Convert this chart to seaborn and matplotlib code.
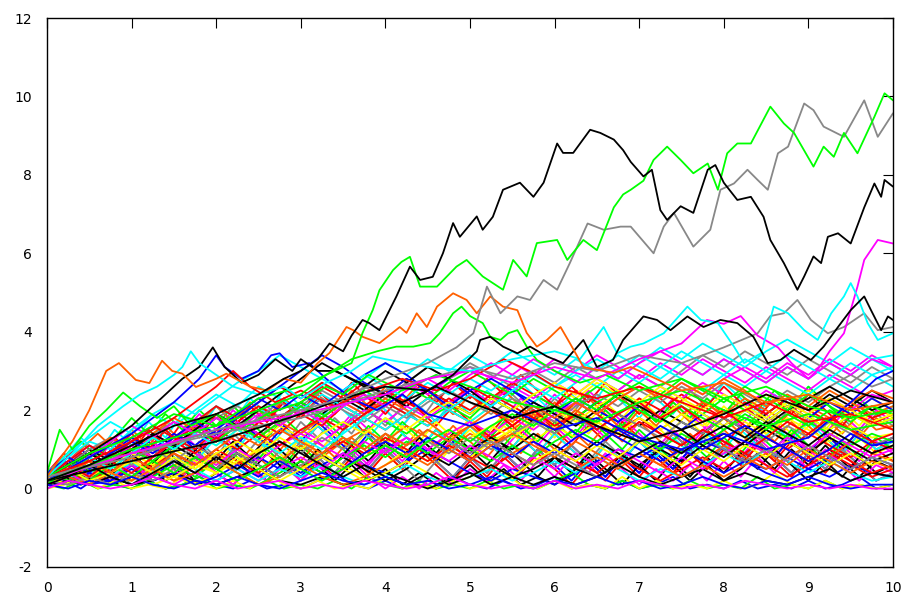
import numpy as np
import pandas as pd
import matplotlib
matplotlib.use("Agg")
import matplotlib.pyplot as plt
import seaborn as sns

# ---------------------------------------------------------------
# Reflected random-walk sample paths, X(t) >= 0 on 0 <= t <= 10
# ---------------------------------------------------------------

COLORS = {
    "red": "#ff0000", "green": "#00ff00", "blue": "#0000ff",
    "magenta": "#ff00ff", "cyan": "#00ffff", "orange": "#ff6000",
    "yellow": "#ffff00", "black": "#000000", "gray": "#888888",
}

# Background bundle A: values every 0.2 time units (51 samples)
n01 = [0.4,0.9,0.5,1.1,0.7,1.3,0.9,1.5,1.1,1.7,1.2,1.8,1.4,2.0,1.5,1.1,1.6,1.2,1.8,1.3,0.9,1.4,1.0,1.5,1.1,0.7,1.2,0.8,1.3,0.9,1.4,1.0,0.6,1.1,0.7,1.2,0.8,0.4,0.9,0.5,1.0,0.6,1.1,0.7,1.2,0.8,1.3,0.9,1.4,1.0,1.2]
n02 = [0.2,0.6,0.3,0.8,1.2,0.8,1.3,0.9,1.4,1.9,1.5,2.0,1.6,2.1,1.7,2.2,1.8,1.4,1.9,1.5,2.0,1.6,2.1,1.7,2.2,2.6,2.2,1.8,2.3,1.9,2.4,2.0,2.5,2.1,1.7,2.2,1.8,2.3,1.9,1.5,2.0,1.6,2.1,1.7,1.3,1.8,1.4,1.9,1.5,2.0,1.7]
n03 = [0.1,0.5,0.2,0.6,0.3,0.7,0.3,0.8,0.4,0.9,0.5,1.0,0.6,0.2,0.7,0.3,0.8,0.4,0.9,0.5,1.0,0.6,1.1,0.7,1.2,0.8,1.3,0.9,0.5,1.0,0.6,1.1,0.7,0.3,0.8,0.4,0.9,0.5,1.0,0.6,1.1,0.7,1.2,0.8,0.4,0.9,0.5,1.0,0.6,0.2,0.4]
n04 = [0.3,0.8,1.3,0.9,1.5,1.1,1.7,1.3,1.9,1.5,2.1,1.7,2.3,1.9,2.5,2.1,1.7,2.2,1.8,2.4,2.0,1.6,2.1,1.7,2.3,1.9,2.5,2.1,2.7,2.3,1.9,2.4,2.0,2.6,2.2,1.8,2.3,1.9,2.5,2.1,2.7,2.3,1.9,2.4,2.0,2.6,2.2,1.8,2.3,1.9,2.1]
n05 = [0.2,0.6,0.3,0.8,0.4,0.9,0.5,1.1,0.7,1.2,0.8,1.4,1.0,1.5,1.1,1.7,1.3,1.8,1.4,2.0,1.6,2.1,1.7,2.3,1.9,2.4,2.0,2.6,2.2,1.8,2.3,1.9,2.4,2.0,1.6,2.1,1.7,2.2,1.8,2.3,1.9,2.4,2.0,1.6,2.1,1.7,2.2,1.8,1.4,1.9,1.6]
n06 = [0.1,0.4,0.1,0.5,0.2,0.6,0.2,0.7,0.3,0.8,0.4,0.9,0.5,1.0,0.6,1.1,0.7,0.3,0.8,0.4,0.9,0.5,1.0,0.6,1.1,1.5,1.1,1.6,1.2,1.7,1.3,1.8,1.4,1.9,1.5,2.0,1.6,1.2,1.7,1.3,1.8,1.4,1.0,1.5,1.1,1.6,1.2,0.8,1.3,0.9,1.1]
n07 = [0.3,0.7,1.2,0.8,1.3,0.9,1.5,1.1,1.7,1.3,1.9,1.5,2.1,1.7,2.3,1.9,2.5,2.1,2.7,2.3,1.9,2.4,2.0,1.6,2.1,1.7,1.3,1.8,1.4,1.9,1.5,1.1,1.6,1.2,1.7,1.3,0.9,1.4,1.0,1.5,1.1,1.6,1.2,0.8,1.3,0.9,1.4,1.0,1.5,1.1,1.3]
n08 = [0.2,0.5,0.9,0.5,1.0,0.6,1.1,0.7,1.2,0.8,0.4,0.9,0.5,1.0,0.6,1.1,0.7,1.2,0.8,1.3,0.9,1.4,1.0,1.5,1.1,1.6,1.2,1.7,1.3,1.8,1.4,1.9,1.5,2.0,1.6,2.1,1.7,2.2,1.8,2.3,1.9,2.4,2.0,2.5,2.1,2.6,2.2,1.8,2.3,1.9,2.0]
n09 = [0.4,0.1,0.5,0.2,0.6,0.2,0.7,0.3,0.8,0.4,0.9,0.5,1.0,0.6,1.1,0.7,1.2,0.8,1.3,0.9,1.4,1.0,1.5,1.1,1.6,1.2,0.8,1.3,0.9,1.4,1.0,1.5,1.1,1.6,1.2,1.7,1.3,0.9,1.4,1.0,1.5,1.1,1.6,1.2,1.7,1.3,1.8,1.4,1.9,1.5,1.6]
n10 = [0.1,0.3,0.1,0.4,0.1,0.3,0.6,0.2,0.5,0.1,0.4,0.8,0.4,0.9,0.5,1.0,0.6,0.2,0.6,0.2,0.5,0.1,0.4,0.1,0.3,0.6,0.2,0.5,0.1,0.3,0.1,0.4,0.8,0.4,0.9,0.5,1.0,0.6,0.2,0.6,0.2,0.5,0.9,0.5,1.0,0.6,1.1,0.7,0.3,0.7,0.5]
n11 = [0.3,0.7,0.3,0.8,0.4,0.9,1.3,0.9,1.4,1.0,1.5,1.1,0.7,1.2,0.8,1.3,0.9,1.4,1.0,0.6,1.1,0.7,1.2,0.8,1.3,0.9,1.4,1.0,1.5,1.1,1.6,1.2,1.7,1.3,1.8,1.4,1.0,1.5,1.1,1.6,1.2,0.8,1.3,0.9,1.4,1.0,0.6,1.1,0.7,1.2,0.9]
n12 = [0.2,0.6,1.0,0.6,1.1,0.7,1.2,0.8,1.3,0.9,1.4,1.0,1.5,1.1,1.6,1.2,1.7,1.3,0.9,1.4,1.0,0.6,1.1,0.7,0.3,0.8,0.4,0.9,0.5,1.0,0.6,0.2,0.7,0.3,0.8,0.4,0.9,0.5,1.0,0.6,1.1,0.7,1.2,0.8,1.3,0.9,1.4,1.0,1.5,1.1,1.3]
n13 = [0.1,0.4,0.1,0.5,0.2,0.6,0.2,0.7,0.3,0.8,0.4,0.1,0.5,0.2,0.6,0.2,0.7,0.3,0.8,0.4,0.9,0.5,1.0,0.6,0.2,0.7,0.3,0.8,0.4,0.9,0.5,0.1,0.6,0.2,0.7,0.3,0.8,0.4,0.9,0.5,1.0,0.6,1.1,0.7,0.3,0.8,0.4,0.9,0.5,1.0,0.7]
n14 = [0.3,0.6,0.2,0.7,0.3,0.8,0.4,0.9,0.5,1.0,0.6,1.1,0.7,1.2,0.8,1.3,0.9,1.4,1.0,1.5,1.1,1.6,1.2,1.7,1.3,1.8,1.4,1.9,1.5,2.0,1.6,2.1,1.7,2.2,1.8,2.3,1.9,1.5,2.0,1.6,2.1,1.7,1.3,1.8,1.4,1.9,1.5,2.0,1.6,2.1,1.8]
n15 = [0.2,0.5,0.1,0.6,0.2,0.7,0.3,0.8,1.2,0.8,1.3,0.9,1.4,1.0,1.5,1.1,1.6,1.2,1.7,1.3,1.8,1.4,1.0,1.5,1.1,1.6,1.2,0.8,1.3,0.9,1.4,1.0,0.6,1.1,0.7,1.2,0.8,1.3,0.9,1.4,1.0,1.5,1.1,1.6,1.2,1.7,1.3,0.9,1.4,1.0,1.2]
n16 = [0.3,0.8,1.2,0.8,1.3,1.8,1.4,1.9,1.5,2.0,1.6,2.1,1.7,1.3,1.8,1.4,1.9,1.5,1.1,1.6,1.2,1.7,1.3,0.9,1.4,1.0,1.5,1.1,1.6,1.2,1.7,1.3,1.8,1.4,1.0,1.5,1.1,0.7,1.2,0.8,1.3,0.9,1.4,1.0,1.5,1.1,0.7,1.2,0.8,1.3,1.0]
n17 = [0.2,0.6,1.0,1.4,1.0,1.5,1.1,1.6,1.2,1.7,2.1,1.7,2.2,1.8,2.3,1.9,2.4,2.0,2.5,2.1,2.6,2.2,2.7,2.3,1.9,2.4,2.0,2.5,2.1,1.7,2.2,1.8,2.3,1.9,1.5,2.0,1.6,2.1,1.7,2.2,1.8,1.4,1.9,1.5,2.0,1.6,1.2,1.7,1.3,1.8,1.5]
n18 = [0.1,0.3,0.6,0.2,0.5,0.1,0.4,0.8,0.4,0.9,0.5,1.0,0.6,1.1,0.7,1.2,0.8,0.4,0.9,0.5,1.0,0.6,0.2,0.7,0.3,0.8,0.4,0.9,0.5,1.0,0.6,1.1,0.7,1.2,0.8,1.3,0.9,1.4,1.0,0.6,1.1,0.7,1.2,0.8,0.4,0.9,0.5,1.0,0.6,0.2,0.4]
n19 = [0.3,0.7,0.3,0.8,0.4,0.9,0.5,1.0,0.6,1.1,0.7,1.2,0.8,1.3,0.9,0.5,1.0,0.6,1.1,0.7,1.2,0.8,1.3,0.9,1.4,1.0,0.6,1.1,0.7,0.3,0.8,0.4,0.9,0.5,0.1,0.6,0.2,0.7,0.3,0.8,0.4,0.9,0.5,1.0,0.6,0.2,0.7,0.3,0.8,0.4,0.6]
n20 = [0.0,0.2,0.0,0.3,0.1,0.0,0.2,0.0,0.1,0.3,0.1,0.0,0.2,0.0,0.1,0.0,0.2,0.4,0.1,0.0,0.2,0.0,0.1,0.0,0.3,0.1,0.0,0.2,0.0,0.1,0.3,0.0,0.1,0.0,0.2,0.0,0.1,0.3,0.0,0.1,0.0,0.2,0.0,0.1,0.0,0.2,0.0,0.1,0.3,0.0,0.1]
n21 = [0.1,0.0,0.2,0.0,0.1,0.0,0.2,0.0,0.1,0.3,0.0,0.1,0.0,0.2,0.0,0.1,0.0,0.2,0.0,0.3,0.1,0.0,0.2,0.0,0.1,0.0,0.2,0.0,0.1,0.0,0.2,0.4,0.1,0.0,0.2,0.0,0.1,0.0,0.2,0.0,0.1,0.0,0.3,0.0,0.1,0.0,0.2,0.0,0.1,0.0,0.1]
n22 = [0.0,0.1,0.3,0.0,0.2,0.0,0.1,0.0,0.3,0.1,0.0,0.2,0.0,0.4,0.1,0.0,0.2,0.0,0.1,0.0,0.3,0.0,0.1,0.0,0.2,0.0,0.1,0.4,0.1,0.0,0.2,0.0,0.1,0.0,0.3,0.0,0.2,0.0,0.1,0.0,0.2,0.0,0.1,0.4,0.1,0.0,0.2,0.0,0.1,0.0,0.1]
n23 = [0.2,0.5,0.2,0.6,0.2,0.6,0.3,0.7,0.3,0.8,0.4,0.1,0.5,0.2,0.6,0.2,0.6,0.3,0.7,0.3,0.0,0.3,0.0,0.4,0.1,0.5,0.2,0.6,0.2,0.7,0.3,0.8,0.4,0.9,0.5,0.1,0.5,0.2,0.6,0.2,0.7,0.3,0.8,0.4,0.9,0.5,1.0,0.6,0.2,0.6,0.4]
n24 = [0.2,0.5,0.9,0.5,1.0,1.4,1.0,1.5,1.1,1.6,1.2,1.7,2.1,1.7,2.2,1.8,2.3,1.9,2.4,2.0,2.5,2.1,2.6,2.2,2.7,2.3,2.8,2.4,2.9,2.5,2.1,2.6,2.2,2.7,2.3,1.9,2.4,2.0,2.5,2.1,2.6,2.2,1.8,2.3,1.9,2.4,2.0,1.6,2.1,1.7,1.9]

# Background bundle B: values every 0.25 time units (41 samples)
red1 = [0.3,0.6,0.2,0.7,1.0,0.8,1.3,1.0,1.5,1.2,1.7,1.4,1.9,1.6,2.1,1.8,1.5,1.9,1.6,2.0,1.7,1.3,1.6,2.0,1.7,2.2,1.9,1.5,1.8,1.4,1.1,1.5,1.2,0.9,1.3,1.0,1.4,1.1,0.8,1.2,1.0]
green1 = [0.1,0.4,0.8,0.5,0.9,1.3,1.0,1.4,1.8,1.5,2.0,1.7,2.2,1.9,1.6,2.0,1.7,1.4,1.8,2.1,1.8,2.3,2.0,2.4,2.1,1.8,2.2,2.5,2.1,1.8,2.2,1.9,2.3,2.0,1.7,2.1,1.8,1.5,1.9,1.6,1.8]
blue1 = [0.2,0.1,0.4,0.2,0.6,0.3,0.7,0.4,0.2,0.5,0.8,0.5,0.3,0.6,0.9,0.6,0.4,0.7,1.0,0.7,0.4,0.2,0.5,0.3,0.1,0.4,0.7,1.0,0.8,1.1,0.9,1.2,1.0,0.7,0.5,0.8,0.5,0.3,0.6,0.4,0.3]
magenta1 = [0.4,0.7,1.1,0.8,1.2,0.9,1.3,1.6,1.3,1.7,1.4,1.1,1.5,1.2,1.6,2.0,1.7,2.1,1.8,2.2,2.5,2.2,2.6,2.3,2.7,2.4,2.8,2.5,2.9,2.6,2.3,2.7,2.4,2.1,2.5,2.2,1.9,2.3,2.0,2.4,2.2]
cyan1 = [0.3,0.8,1.2,1.0,1.5,1.9,1.6,2.0,2.4,2.1,2.6,2.3,2.0,2.4,2.1,1.8,2.2,1.9,1.6,2.0,1.7,2.1,2.5,2.2,2.6,2.9,2.6,3.0,2.7,3.1,2.8,2.5,2.9,2.6,3.0,2.7,2.4,2.8,2.5,2.9,2.6]
orange1 = [0.5,0.3,0.7,0.4,0.8,0.5,0.2,0.6,0.9,0.6,1.0,0.7,1.1,0.8,1.2,1.5,1.2,1.6,1.3,1.0,1.4,1.1,1.5,1.9,1.6,2.0,1.7,1.4,1.8,1.5,1.9,2.2,1.9,2.3,2.0,1.7,2.1,1.8,2.2,1.9,2.1]
yellow1 = [0.1,0.3,0.1,0.4,0.2,0.5,0.3,0.1,0.4,0.7,0.4,0.8,0.5,0.9,0.6,0.3,0.6,1.0,0.7,1.1,0.8,1.2,1.5,1.2,1.6,1.3,1.7,1.4,1.8,1.5,1.9,1.6,2.0,1.7,1.4,1.8,1.5,1.2,1.6,1.3,1.4]
black1 = [0.2,0.5,0.9,0.6,1.0,0.7,1.1,0.8,0.5,0.9,0.6,0.3,0.7,0.4,0.8,0.5,0.2,0.5,0.9,0.6,1.0,1.3,1.0,1.4,1.1,0.8,1.2,0.9,0.6,1.0,0.7,1.1,1.4,1.1,1.5,1.2,0.9,1.3,1.0,0.7,0.9]
gray1 = [0.3,0.6,1.0,1.3,1.0,1.4,1.7,1.4,1.8,2.1,1.8,2.2,1.9,2.3,2.0,1.7,2.1,1.8,2.2,2.5,2.2,1.9,2.3,2.0,1.7,2.1,2.4,2.1,2.5,2.2,2.6,2.3,2.7,2.4,2.1,2.5,2.2,2.6,2.9,2.6,2.8]
red2 = [0.1,0.4,0.2,0.5,0.3,0.6,0.9,0.6,1.0,0.7,0.4,0.8,0.5,0.9,1.2,0.9,1.3,1.0,0.7,1.1,0.8,0.5,0.9,0.6,1.0,0.7,0.4,0.8,0.5,0.2,0.5,0.8,0.5,0.9,0.6,0.3,0.6,0.9,0.6,0.3,0.5]
green2 = [0.4,0.2,0.5,0.3,0.1,0.3,0.6,0.3,0.7,0.4,0.1,0.4,0.7,0.4,0.8,1.1,0.8,1.2,0.9,1.3,1.0,0.7,1.1,0.8,1.2,1.5,1.2,1.6,1.3,1.0,1.4,1.1,1.5,1.8,1.5,1.9,1.6,2.0,1.7,2.1,1.9]
blue2 = [0.3,0.7,0.4,0.9,1.3,1.0,1.4,1.1,1.5,1.9,2.3,2.0,2.4,2.1,2.5,2.9,3.2,2.9,2.5,2.8,2.4,2.1,2.5,2.2,1.9,2.3,2.0,1.7,2.1,1.8,1.5,1.9,1.6,2.0,1.7,2.1,1.8,2.2,1.9,2.3,2.0]
magenta2 = [0.2,0.4,0.1,0.3,0.6,0.3,0.1,0.4,0.2,0.5,0.2,0.5,0.8,0.5,0.9,0.6,1.0,1.3,1.0,1.4,1.7,1.4,1.8,1.5,1.9,2.2,1.9,2.3,2.6,2.3,2.7,2.4,2.8,3.1,2.8,3.2,2.9,3.3,3.0,3.4,3.1]
cyan2 = [0.1,0.3,0.6,0.3,0.7,0.4,0.8,0.5,0.2,0.5,0.2,0.5,0.3,0.6,0.3,0.1,0.3,0.6,0.3,0.1,0.3,0.5,0.2,0.4,0.7,0.4,0.8,0.5,0.2,0.5,0.3,0.6,0.9,0.6,1.0,0.7,0.4,0.7,0.4,0.2,0.3]
orange2 = [0.3,0.6,0.9,1.3,1.0,1.4,1.8,1.5,1.9,1.6,1.3,1.7,1.4,1.8,2.2,1.9,2.3,2.0,1.7,1.3,1.6,1.2,0.9,1.2,0.8,0.5,0.8,0.5,0.9,0.6,1.0,0.7,1.1,0.8,0.5,0.8,1.1,0.8,1.2,0.9,0.7]
yellow2 = [0.2,0.5,0.3,0.6,0.9,0.6,1.0,0.7,0.4,0.7,1.0,0.7,0.4,0.8,0.5,0.8,1.1,0.8,1.2,0.9,1.3,1.6,1.3,1.7,2.0,1.7,2.1,2.4,2.1,1.8,2.2,1.9,1.6,2.0,1.7,2.1,1.8,1.5,1.9,1.6,1.8]
black2 = [0.1,0.2,0.1,0.3,0.1,0.2,0.4,0.2,0.1,0.3,0.5,0.2,0.1,0.3,0.1,0.2,0.4,0.2,0.0,0.2,0.4,0.1,0.3,0.5,0.8,0.5,0.3,0.6,0.3,0.1,0.3,0.5,0.2,0.4,0.2,0.1,0.3,0.5,0.2,0.4,0.3]
gray2 = [0.4,0.8,0.5,0.9,0.6,1.0,0.7,1.1,0.8,0.5,0.9,1.2,0.9,1.3,1.0,1.4,1.1,0.8,1.2,0.9,1.3,1.0,1.4,1.7,1.4,1.8,1.5,1.9,1.6,1.3,1.7,1.4,1.8,1.5,1.2,1.6,1.3,1.7,1.4,1.1,1.3]
red3 = [0.3,0.7,1.1,0.8,1.2,1.6,1.3,1.7,2.1,1.8,2.2,2.6,2.3,2.7,2.4,2.1,2.5,2.2,1.9,2.3,2.0,2.4,2.1,1.8,1.5,1.9,1.6,1.3,1.7,1.4,1.1,1.5,1.2,0.9,1.3,1.0,0.7,1.0,0.7,0.4,0.6]
green3 = [0.2,0.5,0.9,0.6,1.0,0.7,1.1,1.5,1.2,1.6,1.3,1.7,2.1,1.8,2.2,2.5,2.2,2.6,2.3,2.7,3.0,2.7,2.4,2.8,2.5,2.2,2.6,2.3,2.0,1.7,2.1,1.8,1.5,1.9,1.6,1.3,1.7,1.4,1.1,1.4,1.2]
blue3 = [0.1,0.3,0.1,0.2,0.5,0.2,0.4,0.1,0.3,0.6,0.3,0.7,0.4,0.8,0.5,0.9,1.2,0.9,1.3,1.0,0.7,1.1,0.8,1.2,0.9,1.3,1.6,1.3,1.0,0.7,1.0,0.7,0.4,0.7,0.4,0.2,0.5,0.8,0.5,0.8,0.6]
magenta3 = [0.3,0.6,0.3,0.7,1.1,0.8,1.2,0.9,0.6,1.0,0.7,1.1,1.4,1.1,0.8,1.2,0.9,1.3,1.0,0.7,1.1,0.8,0.5,0.8,0.5,0.9,0.6,1.0,0.7,0.4,0.8,0.5,0.9,1.2,0.9,1.3,1.0,1.4,1.1,0.8,1.0]
cyan3 = [0.4,0.9,1.3,1.7,1.4,1.9,2.2,1.9,2.3,2.7,3.0,3.4,3.1,2.8,2.5,2.9,2.6,2.3,2.7,2.4,2.8,2.5,2.9,2.6,2.3,2.7,3.1,2.8,3.2,3.6,3.3,3.7,3.4,3.1,3.5,3.8,3.5,3.2,3.6,3.3,3.4]
orange3 = [0.1,0.3,0.1,0.4,0.2,0.5,0.2,0.4,0.7,0.4,0.1,0.3,0.6,0.3,0.1,0.3,0.6,0.9,0.6,1.0,0.7,1.1,1.4,1.1,0.8,1.2,0.9,0.6,0.9,0.6,0.3,0.6,0.3,0.6,0.9,0.6,1.0,0.7,0.4,0.7,0.5]
yellow3 = [0.3,0.1,0.3,0.6,0.3,0.1,0.3,0.6,0.4,0.8,0.5,0.2,0.5,0.8,0.5,0.2,0.4,0.7,0.4,0.1,0.3,0.6,0.3,0.7,1.0,0.7,1.1,0.8,1.2,0.9,0.6,1.0,0.7,1.1,0.8,1.2,0.9,0.6,0.9,0.6,0.8]
black3 = [0.3,0.6,0.9,0.6,1.0,1.4,1.1,1.5,1.9,1.6,2.0,2.4,2.8,3.2,2.9,2.6,3.0,2.7,3.1,2.8,2.5,2.1,1.8,2.2,1.9,1.6,2.0,2.4,2.1,1.8,1.5,1.1,0.8,1.2,1.6,2.0,2.3,2.6,2.3,2.0,2.2]
gray3 = [0.2,0.1,0.3,0.1,0.4,0.2,0.5,0.8,0.5,0.9,0.6,0.3,0.6,0.9,1.3,1.0,1.4,1.1,1.5,1.2,0.9,1.2,0.9,0.6,0.9,0.6,0.3,0.6,0.9,1.2,0.9,1.3,1.0,0.7,1.0,0.7,1.1,0.8,0.5,0.8,0.6]
red4 = [0.2,0.6,0.3,0.7,0.4,0.8,1.2,0.9,1.3,1.0,1.4,1.1,1.5,1.8,1.5,1.9,2.2,1.9,2.3,2.0,2.4,2.0,1.6,2.0,1.6,1.9,1.5,1.9,2.2,1.8,2.1,1.7,2.0,1.6,1.3,1.7,1.4,1.8,1.5,1.2,1.4]
blue4 = [0.4,0.8,0.5,0.9,1.2,0.9,1.3,1.7,1.4,1.8,2.2,2.6,3.0,3.4,3.1,2.7,2.4,2.8,2.5,2.1,2.5,2.8,2.5,2.1,1.8,1.4,1.1,1.5,1.2,1.6,1.3,1.0,1.3,1.6,1.3,1.0,0.7,1.0,1.4,1.1,1.2]
magenta4 = [0.2,0.5,0.8,1.2,1.6,1.3,1.7,1.4,1.8,1.5,1.9,1.6,2.0,1.7,2.1,2.4,2.1,2.5,2.8,2.5,2.9,3.2,2.9,3.3,3.0,2.7,3.1,2.8,3.2,3.5,3.2,2.9,3.3,3.0,2.7,3.1,2.8,3.2,2.9,3.3,3.1]
green4 = [0.1,0.5,0.2,0.6,0.3,0.7,0.4,0.8,0.5,0.2,0.5,0.8,0.5,0.2,0.5,0.8,1.1,0.8,1.2,1.5,1.2,1.6,1.9,1.6,2.0,2.3,2.0,2.4,2.7,2.4,2.8,2.5,2.2,2.6,2.3,2.0,2.4,2.1,1.8,2.1,1.9]
yellow4 = [0.3,0.5,0.2,0.4,0.7,0.4,0.8,0.5,0.9,1.2,0.9,1.3,1.0,1.4,1.7,1.4,1.8,1.5,1.9,2.2,1.9,2.3,2.0,2.4,2.7,2.4,2.8,2.5,2.2,2.6,2.3,2.0,2.4,2.1,1.8,2.2,1.9,2.3,2.0,1.7,1.9]
cyan4 = [0.2,0.5,0.8,0.5,0.9,1.3,1.0,1.4,1.1,1.5,1.2,0.9,1.3,1.0,1.4,1.8,1.5,1.9,2.3,2.0,2.4,2.1,2.5,2.9,2.6,3.0,3.3,3.0,3.4,3.1,3.5,3.2,2.9,3.3,3.0,3.4,3.1,2.8,3.2,2.9,3.1]
orange4 = [0.2,0.4,0.7,0.4,0.8,0.5,0.9,0.6,1.0,1.4,1.1,1.5,1.2,0.9,1.3,1.0,1.4,1.1,1.5,1.2,1.6,2.0,1.7,2.1,1.8,2.2,1.9,2.3,2.6,2.3,2.7,2.4,2.8,2.5,2.1,2.4,2.1,2.5,2.2,2.5,2.3]
black4 = [0.1,0.3,0.6,0.3,0.1,0.4,0.7,0.4,0.8,0.5,0.9,1.2,0.9,0.6,0.3,0.6,0.3,0.1,0.4,0.1,0.3,0.6,0.3,0.1,0.3,0.1,0.3,0.6,0.9,1.2,0.9,1.3,1.6,1.3,1.7,1.4,1.1,1.5,1.2,0.9,1.1]
blue5 = [0.1,0.0,0.2,0.1,0.3,0.1,0.0,0.2,0.1,0.3,0.1,0.0,0.2,0.4,0.2,0.1,0.3,0.1,0.2,0.0,0.1,0.3,0.1,0.0,0.2,0.1,0.3,0.1,0.2,0.0,0.1,0.3,0.1,0.0,0.2,0.1,0.3,0.1,0.0,0.1,0.1]
magenta5 = [0.0,0.2,0.1,0.0,0.1,0.3,0.1,0.0,0.2,0.0,0.1,0.2,0.0,0.1,0.0,0.2,0.1,0.0,0.1,0.3,0.1,0.0,0.1,0.0,0.2,0.0,0.1,0.0,0.2,0.1,0.0,0.1,0.0,0.2,0.1,0.0,0.1,0.0,0.1,0.0,0.0]
magenta6 = [0.2,0.5,0.9,0.6,1.0,1.4,1.1,1.5,1.2,1.6,2.0,1.7,2.1,1.8,2.2,1.9,2.3,2.7,2.4,2.8,3.1,2.8,3.2,2.9,3.3,3.0,3.4,3.1,2.8,3.2,2.9,3.3,3.0,2.7,3.1,2.8,2.5,2.9,2.6,2.3,2.5]
cyan6 = [0.3,0.7,1.1,0.8,1.2,1.6,1.3,1.7,2.1,1.8,2.2,2.6,2.3,2.7,2.4,2.8,3.2,2.9,3.3,3.0,3.4,3.1,3.5,3.2,2.9,3.3,3.0,3.4,3.1,2.8,3.2,2.9,3.3,3.0,2.7,3.1,2.8,3.2,2.9,3.3,3.0]
gray6 = [0.2,0.5,0.2,0.6,1.0,0.7,1.1,1.5,1.2,1.6,2.0,1.7,2.1,2.5,2.2,2.6,2.3,2.7,3.1,2.8,3.2,2.9,2.6,3.0,2.7,3.1,2.8,2.5,2.9,2.6,3.0,3.4,3.1,3.5,3.2,2.9,3.3,3.0,2.7,3.1,2.8]
yellow6 = [0.2,0.4,0.8,0.5,0.9,0.6,1.0,1.4,1.1,1.5,1.2,1.6,1.3,1.7,2.1,1.8,2.2,1.9,2.3,2.0,1.7,2.1,1.8,2.2,2.6,2.3,2.7,2.4,2.1,2.5,2.2,2.6,2.3,2.0,2.4,2.1,2.5,2.2,1.9,2.3,2.0]
black6 = [0.3,0.6,1.0,0.7,1.1,0.8,1.2,1.6,1.3,1.7,1.4,1.8,2.2,1.9,2.3,2.0,2.4,2.1,2.5,2.2,1.9,2.3,2.0,1.7,2.1,1.8,2.2,1.9,1.6,2.0,1.7,1.4,1.8,1.5,1.9,2.3,2.0,2.4,2.1,2.5,2.2]
red6 = [0.2,0.6,0.3,0.7,1.1,0.8,1.2,1.6,1.3,1.7,2.1,1.8,2.2,2.6,2.3,2.7,2.4,2.8,2.5,2.2,2.6,2.3,2.7,2.4,2.1,2.5,2.2,1.9,2.3,2.0,2.4,2.1,1.8,2.2,1.9,2.3,2.0,1.7,2.1,1.8,2.0]

bundle = [
    ("n01", "red", n01), ("n02", "magenta", n02), ("n03", "blue", n03),
    ("n04", "cyan", n04), ("n05", "gray", n05), ("n06", "yellow", n06),
    ("n07", "red", n07), ("n08", "green", n08), ("n09", "orange", n09),
    ("n10", "black", n10), ("n11", "magenta", n11), ("n12", "blue", n12),
    ("n13", "red", n13), ("n14", "yellow", n14), ("n15", "cyan", n15),
    ("n16", "green", n16), ("n17", "orange", n17), ("n18", "gray", n18),
    ("n19", "black", n19), ("n20", "blue", n20), ("n21", "green", n21),
    ("n22", "yellow", n22), ("n23", "magenta", n23), ("n24", "red", n24),
    ("magenta6", "magenta", magenta6), ("cyan6", "cyan", cyan6), ("gray6", "gray", gray6),
    ("yellow6", "yellow", yellow6), ("black6", "black", black6), ("red6", "red", red6),
    ("red1", "red", red1), ("green1", "green", green1), ("blue1", "blue", blue1),
    ("magenta1", "magenta", magenta1), ("cyan1", "cyan", cyan1), ("orange1", "orange", orange1),
    ("yellow1", "yellow", yellow1), ("black1", "black", black1), ("gray1", "gray", gray1),
    ("red2", "red", red2), ("green2", "green", green2), ("blue2", "blue", blue2),
    ("magenta2", "magenta", magenta2), ("cyan2", "cyan", cyan2), ("orange2", "orange", orange2),
    ("yellow2", "yellow", yellow2), ("black2", "black", black2), ("gray2", "gray", gray2),
    ("red3", "red", red3), ("green3", "green", green3), ("blue3", "blue", blue3),
    ("magenta3", "magenta", magenta3), ("cyan3", "cyan", cyan3), ("orange3", "orange", orange3),
    ("yellow3", "yellow", yellow3), ("black3", "black", black3), ("gray3", "gray", gray3),
    ("red4", "red", red4), ("blue4", "blue", blue4), ("magenta4", "magenta", magenta4),
    ("green4", "green", green4), ("yellow4", "yellow", yellow4), ("cyan4", "cyan", cyan4),
    ("orange4", "orange", orange4), ("black4", "black", black4), ("blue5", "blue", blue5),
    ("magenta5", "magenta", magenta5),
]

# Individually traced paths (time, value)
blue_mid_t = [0, 0.5, 1.0, 1.5, 1.8, 2.0, 2.1, 2.3, 2.5, 2.65, 2.75, 2.9, 3.1, 3.3, 3.6, 3.9, 4.2, 4.5, 5.0, 5.5, 6.0, 6.5, 7.0, 7.5, 8.0, 8.5, 9.0, 9.5, 9.8, 10]
blue_mid_v = [0.2, 0.8, 1.4, 2.2, 2.8, 3.4, 3.1, 2.8, 3.0, 3.4, 3.45, 3.1, 3.2, 2.8, 2.3, 2.0, 2.4, 1.9, 1.6, 2.0, 1.5, 1.8, 1.3, 1.0, 1.4, 1.0, 1.3, 2.2, 2.8, 3.0]

green_mid_t = [0, 0.15, 0.3, 0.5, 0.7, 0.9, 1.1, 1.3, 1.5, 1.7, 2.0, 2.3, 2.6, 3.0, 3.3, 3.5, 3.8, 4.2, 4.6, 5.0, 5.5, 6.0, 6.5, 7.0, 7.5, 8.0, 8.5, 9.0, 9.5, 10]
green_mid_v = [0.4, 1.5, 1.0, 1.6, 2.0, 2.45, 2.1, 1.8, 2.1, 1.6, 1.9, 1.5, 1.9, 2.2, 2.6, 2.4, 2.9, 2.5, 2.9, 2.6, 2.2, 2.0, 1.7, 2.2, 2.5, 2.0, 1.6, 1.9, 1.5, 1.7]

red_mid_t = [0, 0.5, 1.0, 1.5, 2.0, 2.2, 2.4, 2.7, 3.0, 3.4, 3.8, 4.2, 4.6, 5.0, 5.4, 5.7, 6.0, 6.5, 7.0, 7.5, 8.0, 8.5, 9.0, 9.5, 10]
red_mid_v = [0.3, 0.7, 1.2, 1.8, 2.6, 3.0, 2.6, 2.2, 2.5, 2.1, 2.5, 2.8, 2.5, 2.8, 3.3, 3.0, 2.6, 2.3, 2.6, 2.2, 1.8, 2.2, 1.7, 1.9, 1.5]

black_mid_t = [0, 0.5, 1.0, 1.3, 1.6, 1.8, 1.96, 2.1, 2.3, 2.5, 2.7, 2.9, 3.0, 3.2, 3.4, 3.8, 4.2, 4.6, 5.0, 5.5, 6.0, 6.5, 7.0, 7.5, 8.0, 8.5, 9.0, 9.5, 10]
black_mid_v = [0.3, 0.9, 1.6, 2.2, 2.8, 3.1, 3.6, 3.1, 2.7, 2.9, 3.3, 3.0, 3.3, 3.0, 3.0, 2.6, 2.2, 2.6, 2.2, 1.8, 2.1, 1.6, 1.2, 1.5, 1.9, 2.4, 2.0, 2.5, 2.2]

green_b_t = [0, 0.5, 1.0, 1.5, 2.0, 2.5, 3.0, 3.3, 3.6, 3.9, 4.13, 4.33, 4.53, 4.64, 4.8, 4.9, 5.0, 5.15, 5.24, 5.36, 5.45, 5.56, 5.67, 5.79, 6.0, 6.3, 6.6, 7.0, 7.5, 8.0, 8.5, 9.0, 9.5, 10]
green_b_v = [0.3, 0.9, 1.3, 1.9, 1.6, 2.3, 2.6, 2.9, 3.3, 3.5, 3.62, 3.62, 3.71, 3.96, 4.47, 4.64, 4.4, 4.22, 3.87, 3.79, 3.96, 4.04, 3.62, 3.28, 3.0, 2.7, 2.9, 2.5, 2.8, 2.3, 2.6, 2.1, 1.8, 2.0]

gray_b_t = [0, 1, 2, 3, 4, 4.5, 5, 5.5, 6, 6.5, 7, 7.5, 8, 8.4, 8.55, 8.71, 8.87, 9.03, 9.23, 9.42, 9.66, 9.82, 10]
gray_b_v = [0.3, 0.9, 1.4, 1.8, 2.5, 2.8, 3.1, 2.8, 3.2, 3.0, 3.4, 3.2, 3.6, 3.96, 4.4, 4.47, 4.81, 4.3, 3.96, 4.12, 4.47, 4.04, 4.12]

magenta_b_t = [0, 1, 2, 3, 4, 4.5, 5, 5.5, 6, 6.5, 7, 7.5, 7.8, 8.0, 8.2, 8.4, 8.64, 8.8, 9.0, 9.11, 9.25, 9.42, 9.58, 9.66, 9.82, 10]
magenta_b_v = [0.2, 0.9, 1.5, 1.9, 2.4, 2.8, 3.0, 2.7, 3.1, 2.8, 3.3, 3.7, 4.3, 4.2, 4.4, 3.9, 3.6, 3.2, 2.8, 3.03, 3.5, 3.96, 5.15, 5.83, 6.34, 6.25]

cyan_mid_t = [0, 0.3, 0.6, 0.9, 1.1, 1.3, 1.5, 1.6, 1.7, 1.8, 2.0, 2.2, 2.5, 2.8, 3.0, 3.3, 3.6, 3.85, 4.0, 4.5, 5.0, 5.5, 6.0, 6.3, 6.58, 6.74, 6.9, 7.05, 7.29, 7.57, 7.73, 7.93, 8.12, 8.24, 8.44, 8.59, 8.76, 8.95, 9.11, 9.27, 9.42, 9.5, 9.58, 9.7, 9.82, 10]
cyan_mid_v = [0.3, 0.9, 1.6, 2.1, 2.4, 2.6, 2.9, 3.1, 3.5, 3.2, 2.9, 2.6, 2.4, 2.6, 2.3, 2.7, 3.0, 3.37, 3.3, 3.1, 3.0, 3.3, 3.5, 3.3, 4.12, 3.45, 3.62, 3.7, 3.96, 4.64, 4.3, 4.22, 3.62, 3.2, 3.45, 4.64, 4.47, 4.04, 3.79, 4.47, 4.9, 5.24, 4.9, 4.22, 3.79, 3.96]

black_c_t = [0, 1, 2, 3, 3.5, 4, 4.5, 4.8, 5.08, 5.12, 5.24, 5.39, 5.56, 5.71, 5.91, 6.1, 6.34, 6.5, 6.69, 6.81, 7.05, 7.21, 7.37, 7.57, 7.76, 7.96, 8.16, 8.35, 8.52, 8.67, 8.83, 9.03, 9.18, 9.35, 9.5, 9.66, 9.74, 9.86, 9.94, 10]
black_c_v = [0.2, 0.7, 1.2, 1.9, 2.3, 2.6, 2.5, 2.9, 3.5, 3.79, 3.87, 3.62, 3.45, 3.62, 3.37, 3.2, 3.79, 3.1, 3.28, 3.79, 4.39, 4.3, 4.04, 4.39, 4.12, 4.3, 4.22, 3.87, 3.2, 3.28, 3.54, 3.28, 3.62, 4.12, 4.55, 4.9, 4.55, 4.04, 4.39, 4.3]

orange_top_t = [0, 0.3, 0.5, 0.6, 0.7, 0.85, 1.05, 1.21, 1.36, 1.48, 1.6, 1.76, 2.0, 2.12, 2.4, 2.6, 2.8, 3.0, 3.2, 3.34, 3.54, 3.62, 3.73, 3.93, 4.17, 4.25, 4.37, 4.49, 4.61, 4.8, 4.96, 5.08, 5.24, 5.39, 5.56, 5.67, 5.79, 5.91, 6.07, 6.18, 6.34, 6.5, 6.7, 6.9, 7.2, 7.5, 8.0, 8.5, 9.0, 9.5, 10]
orange_top_v = [0.3, 1.2, 2.0, 2.5, 3.0, 3.2, 2.77, 2.69, 3.26, 3.0, 2.93, 2.59, 2.8, 2.93, 2.6, 2.5, 2.8, 2.7, 3.2, 3.46, 4.12, 4.04, 3.87, 3.71, 4.12, 3.97, 4.47, 4.12, 4.64, 4.98, 4.81, 4.47, 4.9, 4.64, 4.55, 3.97, 3.62, 3.79, 4.12, 3.71, 3.1, 3.03, 2.95, 3.1, 2.8, 2.5, 2.7, 2.2, 2.4, 2.0, 2.2]

gray_top_t = [0, 1, 2, 3, 3.5, 4, 4.5, 4.84, 5.04, 5.2, 5.36, 5.56, 5.71, 5.87, 6.03, 6.18, 6.39, 6.58, 6.78, 6.9, 7.17, 7.29, 7.41, 7.64, 7.84, 7.96, 8.12, 8.28, 8.4, 8.52, 8.64, 8.76, 8.95, 9.06, 9.18, 9.42, 9.66, 9.82, 10]
gray_top_v = [0.3, 0.8, 1.5, 2.0, 2.3, 2.8, 3.2, 3.6, 3.96, 5.15, 4.47, 4.9, 4.81, 5.32, 5.07, 5.75, 6.76, 6.6, 6.68, 6.68, 6.0, 6.68, 7.03, 6.17, 6.6, 7.62, 7.78, 8.13, 7.87, 7.62, 8.55, 8.72, 9.82, 9.65, 9.23, 8.97, 9.9, 8.97, 9.57]

green_top_t = [0, 1, 2, 2.5, 3, 3.3, 3.6, 3.73, 3.85, 3.93, 4.09, 4.19, 4.29, 4.41, 4.61, 4.84, 4.96, 5.15, 5.39, 5.51, 5.67, 5.79, 6.03, 6.15, 6.34, 6.5, 6.7, 6.81, 6.9, 7.05, 7.17, 7.33, 7.49, 7.64, 7.81, 7.93, 8.04, 8.16, 8.32, 8.55, 8.71, 8.83, 9.06, 9.18, 9.3, 9.42, 9.58, 9.78, 9.9, 10]
green_top_v = [0.2, 1.0, 1.6, 2.0, 2.4, 2.9, 3.2, 3.97, 4.55, 5.06, 5.57, 5.78, 5.91, 5.15, 5.15, 5.66, 5.83, 5.41, 5.07, 5.83, 5.41, 6.26, 6.34, 5.83, 6.34, 6.08, 7.17, 7.5, 7.62, 7.85, 8.38, 8.72, 8.38, 8.04, 8.29, 7.62, 8.55, 8.8, 8.8, 9.74, 9.31, 9.07, 8.21, 8.72, 8.46, 9.07, 8.55, 9.48, 10.08, 9.9]

black_top_t = [0, 0.5, 1, 1.5, 2, 2.5, 2.8, 3.0, 3.2, 3.34, 3.5, 3.6, 3.73, 3.81, 3.93, 4.13, 4.29, 4.41, 4.56, 4.68, 4.8, 4.88, 5.08, 5.15, 5.27, 5.39, 5.59, 5.75, 5.87, 6.03, 6.1, 6.22, 6.42, 6.54, 6.7, 6.81, 6.9, 7.05, 7.15, 7.25, 7.33, 7.49, 7.64, 7.81, 7.9, 8.0, 8.16, 8.32, 8.47, 8.55, 8.71, 8.87, 8.95, 9.06, 9.15, 9.23, 9.35, 9.5, 9.66, 9.78, 9.86, 9.9, 10]
black_top_v = [0.2, 0.6, 1.1, 1.6, 1.9, 2.4, 2.8, 3.0, 3.3, 3.7, 3.5, 3.9, 4.3, 4.22, 4.04, 4.9, 5.66, 5.32, 5.4, 6.0, 6.77, 6.42, 6.94, 6.6, 6.93, 7.62, 7.8, 7.44, 7.8, 8.8, 8.56, 8.56, 9.15, 9.07, 8.9, 8.63, 8.33, 7.96, 8.13, 7.1, 6.85, 7.2, 7.03, 8.13, 8.25, 7.8, 7.36, 7.44, 6.93, 6.34, 5.75, 5.07, 5.41, 5.92, 5.75, 6.42, 6.51, 6.25, 7.17, 7.78, 7.44, 7.87, 7.7]

traced = [
    ("blue_mid", "blue", blue_mid_t, blue_mid_v),
    ("green_mid", "green", green_mid_t, green_mid_v),
    ("red_mid", "red", red_mid_t, red_mid_v),
    ("black_mid", "black", black_mid_t, black_mid_v),
    ("green_b", "green", green_b_t, green_b_v),
    ("gray_b", "gray", gray_b_t, gray_b_v),
    ("magenta_b", "magenta", magenta_b_t, magenta_b_v),
    ("cyan_mid", "cyan", cyan_mid_t, cyan_mid_v),
    ("black_c", "black", black_c_t, black_c_v),
    ("orange_top", "orange", orange_top_t, orange_top_v),
    ("gray_top", "gray", gray_top_t, gray_top_v),
    ("green_top", "green", green_top_t, green_top_v),
    ("black_top", "black", black_top_t, black_top_v),
]

# ---------------------------------------------------------------
# Long-format table for seaborn
# ---------------------------------------------------------------
frames = []
palette = {}
order = []
for name, col, vals in bundle:
    t = np.linspace(0, 10, len(vals))
    frames.append(pd.DataFrame({"t": t, "x": vals, "path": name}))
    palette[name] = COLORS[col]
    order.append(name)
for name, col, tt, vv in traced:
    frames.append(pd.DataFrame({"t": tt, "x": vv, "path": name}))
    palette[name] = COLORS[col]
    order.append(name)
df = pd.concat(frames, ignore_index=True)

sns.set_style("white")
plt.rcParams["font.family"] = ["DejaVu Sans"]
plt.rcParams["axes.unicode_minus"] = False

fig = plt.figure(figsize=(9.08, 6.04), dpi=100)
ax = fig.add_axes([47 / 908, 37 / 604, 846 / 908, 549 / 604])

sns.lineplot(data=df, x="t", y="x", hue="path", hue_order=order, palette=palette,
             estimator=None, sort=False, legend=False, linewidth=1.3, ax=ax)

ax.set_xlim(0, 10)
ax.set_ylim(-2, 12)
ax.set_xticks(range(0, 11))
ax.set_yticks(range(-2, 13, 2))
ax.set_xlabel("")
ax.set_ylabel("")
ax.tick_params(direction="in", length=7.5, width=0.8, color="black",
               top=True, right=True, labelsize=10, labelcolor="black")
ax.tick_params(axis="x", pad=10)
ax.tick_params(axis="y", pad=11)
for s in ax.spines.values():
    s.set_visible(True)
    s.set_color("black")
    s.set_linewidth(1.0)

fig.savefig("out.png", dpi=100)
